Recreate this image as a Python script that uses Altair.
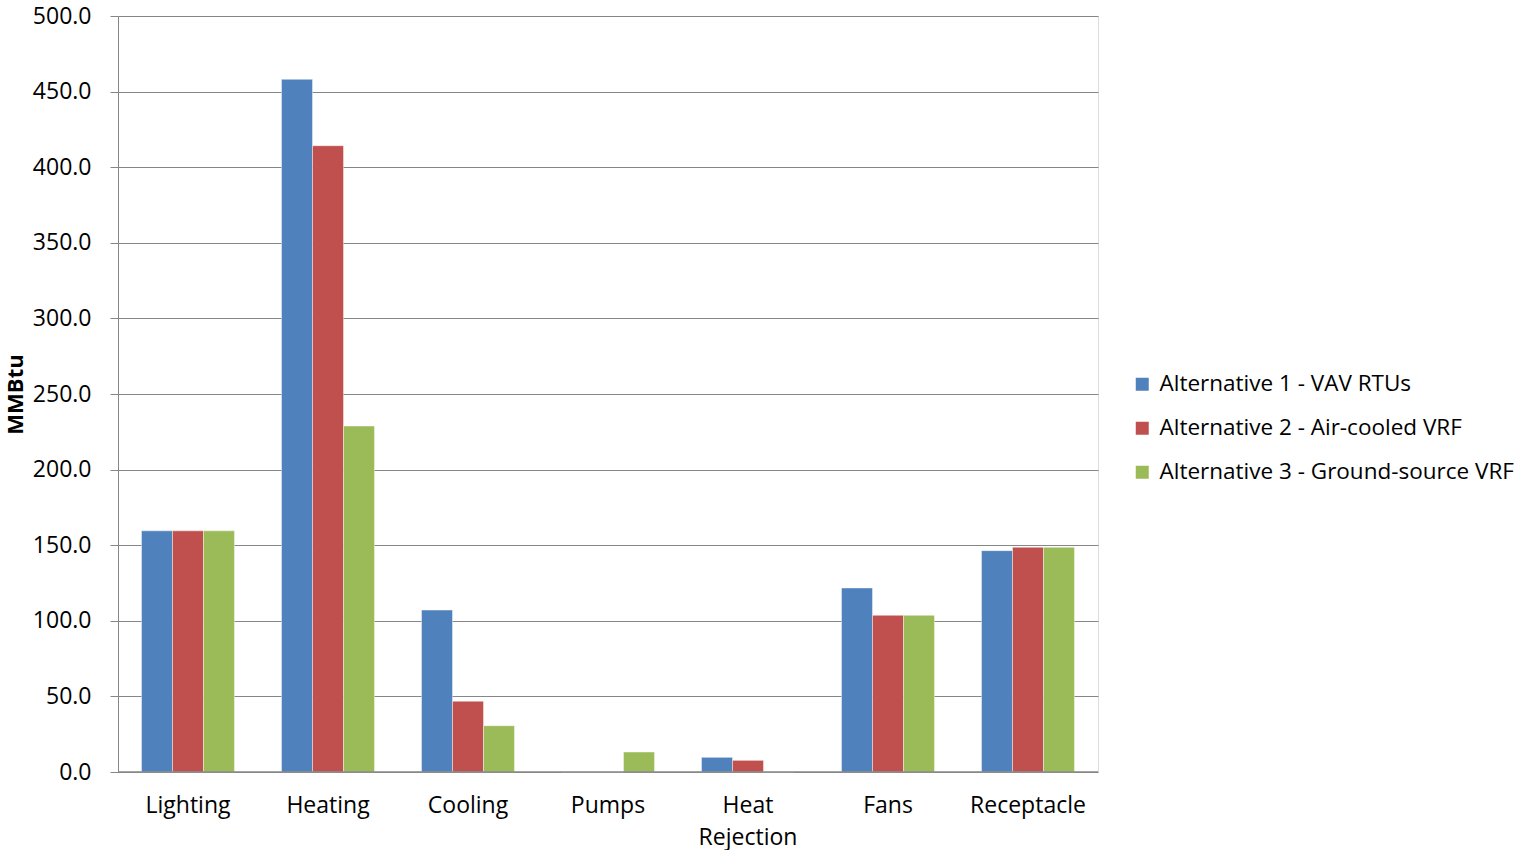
import altair as alt
import pandas as pd

categories = ["Lighting", "Heating", "Cooling", "Pumps", "Heat Rejection", "Fans", "Receptacle"]
series = ["Alternative 1 - VAV RTUs", "Alternative 2 - Air-cooled VRF", "Alternative 3 - Ground-source VRF"]
alt1 = [159.5, 458.1, 107.1, 0.0, 9.7, 121.7, 146.4]
alt2 = [159.5, 414.2, 46.8, 0.0, 7.7, 103.6, 148.6]
alt3 = [159.5, 228.8, 30.6, 13.2, 0.0, 103.6, 148.6]
colors = ["#4F81BD", "#C0504D", "#9BBB59"]
y_ticks = [0, 50, 100, 150, 200, 250, 300, 350, 400, 450, 500]

rows = []
for s, vals in zip(series, [alt1, alt2, alt3]):
    for c, v in zip(categories, vals):
        rows.append({"category": c, "series": s, "value": v})
df = pd.DataFrame(rows)

font = "Open Sans"
fs = 23

chart = alt.Chart(df).mark_bar(stroke="#ffffff", strokeWidth=0.6, strokeOpacity=0.7).encode(
    x=alt.X("category:N", sort=categories,
            scale=alt.Scale(paddingInner=0.336, paddingOuter=0.168),
            axis=alt.Axis(title=None, labelAngle=0, labelFontSize=fs, labelFont=font,
                          labelColor="#000000", labelPadding=22, ticks=False, domain=False,
                          labelExpr="datum.value == 'Heat Rejection' ? ['Heat', 'Rejection'] : datum.value",
                          labelLineHeight=32)),
    xOffset=alt.XOffset("series:N", sort=series),
    y=alt.Y("value:Q", scale=alt.Scale(domain=[0, 500], nice=False),
            axis=alt.Axis(title="MMBtu", titleFontSize=22, titleFont=font, titleFontWeight="bold",
                          titleColor="#000000", titlePadding=5,
                          values=y_ticks, format=".1f", labelFontSize=fs, labelFont=font,
                          labelColor="#000000", labelPadding=19, tickSize=8, tickColor="#868686",
                          domainColor="#868686", gridColor="#868686", gridWidth=1.2)),
    color=alt.Color("series:N", sort=series,
                    scale=alt.Scale(domain=series, range=colors),
                    legend=alt.Legend(title=None, orient="none", legendX=1013, legendY=357,
                                      symbolType="square", symbolSize=169, symbolStrokeWidth=0,
                                      labelFontSize=22.5, labelFont=font, labelColor="#000000",
                                      rowPadding=21, labelOffset=6, labelLimit=600)),
)

baseline = alt.Chart(pd.DataFrame({"y": [0]})).mark_rule(color="#868686", strokeWidth=1.5).encode(
    y=alt.Y("y:Q", scale=alt.Scale(domain=[0, 500], nice=False)),
)

final = alt.layer(chart, baseline).properties(
    width=980, height=756,
    autosize=alt.AutoSizeParams(type="none"),
    padding={"left": 118, "top": 16, "right": 423, "bottom": 78},
).configure_view(stroke=None).configure(background="#ffffff")

final.save("out.html", embed_options={"renderer": "svg", "actions": False})
